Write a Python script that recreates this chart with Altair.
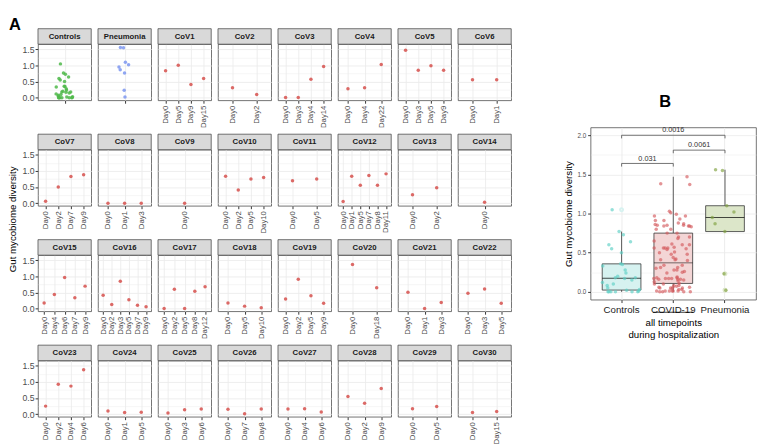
import altair as alt
import pandas as pd

# ---------------- data ----------------
controls = [1.05, 0.77, 0.73, 0.64, 0.60, 0.55, 0.50, 0.36, 0.35, 0.33,
            0.28, 0.24, 0.20, 0.18, 0.18, 0.17, 0.15, 0.12, 0.10, 0.08,
            0.05, 0.03, 0.02, 0.01, 0.0, 0.0, 0.0, 0.0, 0.0, 0.0]
pneumonia = [1.56, 1.55, 1.10, 1.02, 0.95, 0.87, 0.77, 0.23, 0.02]

cov_names = ["CoV1", "CoV2", "CoV3", "CoV4", "CoV5", "CoV6", "CoV7", "CoV8",
             "CoV9", "CoV10", "CoV11", "CoV12", "CoV13", "CoV14", "CoV15",
             "CoV16", "CoV17", "CoV18", "CoV19", "CoV20", "CoV21", "CoV22",
             "CoV23", "CoV24", "CoV25", "CoV26", "CoV27", "CoV28", "CoV29",
             "CoV30"]
cov_days = [[0, 5, 9, 15], [0, 2], [0, 3, 4, 14], [0, 4, 22], [0, 3, 5, 9],
            [0, 1], [0, 2, 7, 9], [0, 1, 3], [0], [0, 2, 5, 10], [0, 5],
            [0, 1, 5, 7, 8, 11], [0, 2], [0], [0, 4, 6, 7, 9],
            [0, 2, 3, 5, 7, 9], [0, 2, 5, 8, 12], [0, 5, 10], [0, 2, 5, 9],
            [0, 18], [0, 1, 3], [0, 3, 5], [0, 2, 4, 6], [0, 1, 5], [0, 3, 6],
            [0, 7, 8], [0, 4, 6], [0, 2, 9], [0, 5], [0, 15]]
cov_values = [[0.84, 1.01, 0.41, 0.60], [0.31, 0.10], [0.01, 0.01, 0.57, 0.97],
              [0.28, 0.31, 1.03], [1.47, 0.85, 0.99, 0.85], [0.56, 0.56],
              [0.06, 0.50, 0.83, 0.88], [0.0, 0.0, 0.0], [0.0],
              [0.84, 0.41, 0.75, 0.80], [0.70, 0.75],
              [0.05, 0.84, 0.56, 0.86, 0.56, 0.91], [0.26, 0.48], [0.03],
              [0.18, 0.44, 0.97, 0.34, 0.70],
              [0.42, 0.13, 0.85, 0.28, 0.11, 0.06],
              [0.01, 0.60, 0.01, 0.54, 0.68], [0.18, 0.08, 0.03],
              [0.30, 0.91, 0.40, 0.17], [1.37, 0.65], [0.51, 0.01, 0.19],
              [0.48, 0.61, 0.17], [0.25, 0.93, 0.87, 1.38], [0.10, 0.05, 0.06],
              [0.04, 0.14, 0.16], [0.15, 0.01, 0.16], [0.16, 0.17, 0.07],
              [0.55, 0.34, 0.80], [0.17, 0.24], [0.05, 0.08]]

group_order = ["Controls", "COVID-19", "Pneumonia"]
panel_order = ["Controls", "Pneumonia"] + cov_names

cmp_from = [1, 2, 1]
cmp_to = [2, 3, 3]
cmp_y = [1.64, 1.81, 2.0]
cmp_label = ["0.031", "0.0061", "0.0016"]

# ---------------- tables ----------------
rows = []
for v in controls:
    rows.append(dict(panel="Controls", group="Controls", day=" ", daynum=0, value=v))
for v in pneumonia:
    rows.append(dict(panel="Pneumonia", group="Pneumonia", day=" ", daynum=0, value=v))
for n, ds, vs in zip(cov_names, cov_days, cov_values):
    for d, v in zip(ds, vs):
        rows.append(dict(panel=n, group="COVID-19", day=f"Day{d}", daynum=d, value=v))
dfA = pd.DataFrame(rows)
dfP = pd.DataFrame({"panel": panel_order})

brows = [dict(group="Controls", value=v) for v in controls]
for vs in cov_values:
    brows += [dict(group="COVID-19", value=v) for v in vs]
brows += [dict(group="Pneumonia", value=v) for v in pneumonia]
dfB = pd.DataFrame(brows)

dfC = pd.DataFrame(dict(x1=cmp_from, x2=cmp_to, y=cmp_y, label=cmp_label))

FONT = "Liberation Sans"
minor = "round(datum.value * 4) % 2 === 0"
quarter = [0, 0.25, 0.5, 0.75, 1.0, 1.25, 1.5, 1.75, 2.0]
tick_op = {"condition": {"test": minor, "value": 1}, "value": 0}
grid_w = {"condition": {"test": minor, "value": 0.9}, "value": 0.45}
HASH = "2 * (abs(sin(datum.rn * 12.9898 + 78.233) * 43758.5453) % 1) - 1"

# ---------------- panel A ----------------
W, H = 55, 58
yscaleA = alt.Scale(domain=[-0.08, 1.66], nice=False, zero=False)
yaxis_first = alt.Axis(values=quarter[:7], title=None,
                       labelExpr=f"{minor} ? format(datum.value, '.1f') : ''",
                       tickOpacity=tick_op, gridWidth=grid_w,
                       gridColor="#ebebeb", tickColor="#333333", tickSize=3,
                       labelFontSize=9, labelColor="#4d4d4d", domain=False, labelPadding=1)
yaxis_other = alt.Axis(values=quarter[:7], title=None, labels=False, ticks=False,
                       gridWidth=grid_w, gridColor="#ebebeb", domain=False)
xA = alt.X("day:N", sort=alt.EncodingSortField(field="daynum", op="min"),
           scale=alt.Scale(type="point", padding=0.6),
           axis=alt.Axis(title=None, labelAngle=270, labelAlign="right", labelBaseline="middle",
                         labelFontSize=8, labelColor="#4d4d4d", tickColor="#333333", tickSize=3,
                         domain=False, grid=True, gridColor="#ebebeb", gridWidth=0.9,
                         labelPadding=2))
colA = alt.Color("group:N", scale=alt.Scale(domain=["Controls", "Pneumonia", "COVID-19"],
                                            range=["#4fb84a", "#7d96f0", "#d6504c"]), legend=None)
sizeA = alt.Size("group:N", scale=alt.Scale(domain=["Controls", "Pneumonia", "COVID-19"],
                                            range=[13, 13, 20]), legend=None)


def panel(name, first):
    pts = alt.Chart(dfA).transform_filter(
        alt.datum.panel == name
    ).transform_window(
        rn="row_number()"
    ).transform_calculate(
        jit=f"datum.group === 'COVID-19' ? 0 : {HASH}"
    ).mark_circle(opacity=0.85).encode(
        x=xA,
        xOffset=alt.XOffset("jit:Q", scale=alt.Scale(domain=[-1, 1], range=[-9, 9])),
        y=alt.Y("value:Q", scale=yscaleA, axis=yaxis_first if first else yaxis_other),
        color=colA, size=sizeA,
    )
    hdr = alt.Chart(dfP).transform_filter(alt.datum.panel == name)
    strip = hdr.mark_rect(fill="#d9d9d9", stroke="#4d4d4d", strokeWidth=0.8).encode(
        x=alt.value(0), x2=alt.value(W), y=alt.value(-16), y2=alt.value(0))
    lab = hdr.mark_text(fontSize=8, fontWeight="bold", color="#1a1a1a").encode(
        x=alt.value(W / 2), y=alt.value(-7.5), text="panel:N")
    return alt.layer(pts, strip, lab).properties(width=W, height=H)


spacerA = alt.Chart(dfP).mark_rule(opacity=0).encode(
    x=alt.value(0), x2=alt.value(1), y=alt.value(0)
).transform_filter("datum.panel === 'Controls'").properties(
    width=W, height=2, view=alt.ViewBackground(stroke="transparent"))

grid_rows = [spacerA]
for r in range(4):
    names = panel_order[r * 8:(r + 1) * 8]
    grid_rows.append(alt.hconcat(*[panel(n, i == 0) for i, n in enumerate(names)], spacing=5))
gridA = alt.vconcat(*grid_rows, spacing=5)

ylab = alt.layer(
    alt.Chart(pd.DataFrame({"t": ["Gut mycobiome diversity"]})).mark_text(
        angle=270, fontSize=10, color="#000000").encode(
        text="t:N", x=alt.value(3.5), y=alt.value(206)),
    alt.Chart(pd.DataFrame({"t": ["A"]})).mark_text(
        fontSize=17, fontWeight="bold", align="left", baseline="top", color="#000000").encode(
        text="t:N", x=alt.value(-1), y=alt.value(-3)),
).properties(width=7, height=400, view=alt.ViewBackground(stroke="transparent"))

# ---------------- panel B ----------------
WB, HB = 171, 178
yscaleB = alt.Scale(domain=[-0.1, 2.1], nice=False, zero=False)
yaxisB = alt.Axis(values=quarter, title="Gut mycobiome diversity",
                  titleFontSize=10, titleFontWeight="normal", titleColor="#000000",
                  titlePadding=4,
                  labelExpr=f"{minor} ? format(datum.value, '.1f') : ''",
                  tickOpacity=tick_op, gridWidth=grid_w,
                  gridColor="#ebebeb", tickColor="#333333", tickSize=3,
                  labelFontSize=6.5, labelColor="#4d4d4d", domain=False, labelPadding=2)


def yb(field):
    return alt.Y(field, scale=yscaleB, axis=yaxisB)


xB = alt.X("group:N", sort=group_order,
           scale=alt.Scale(domain=group_order, paddingInner=0.25, paddingOuter=0.225),
           axis=alt.Axis(title=["all timepoints", "during hospitalization"], titleFontSize=10,
                         titleFontWeight="normal", titleColor="#000000", titlePadding=4,
                         labelAngle=0, labelFontSize=10, labelColor="#1a1a1a",
                         tickColor="#333333", tickSize=3, domain=False, grid=True,
                         gridColor="#ebebeb", bandPosition=0.5, labelPadding=2))
xq = alt.Scale(domain=[0.4, 3.6], nice=False, zero=False)

boxB = alt.Chart(dfB).mark_boxplot(
    extent=1.5, size=40, ticks=False,
    median={"color": "#000000", "strokeWidth": 1.3},
    rule={"color": "#333333", "strokeWidth": 0.8},
    box={"stroke": "#333333", "strokeWidth": 0.8},
    outliers={"size": 10, "opacity": 1},
).encode(
    x=xB, y=yb("value:Q"),
    color=alt.Color("group:N", scale=alt.Scale(domain=group_order,
                                               range=["#d6f2f0", "#f3d5d5", "#dce6c9"]), legend=None),
)
ptsB = alt.Chart(dfB).transform_window(
    rn="row_number()", groupby=["group"]
).transform_calculate(
    xj=f"indexof(['Controls', 'COVID-19', 'Pneumonia'], datum.group) + 1 + 0.38 * ({HASH})"
).mark_circle(size=13, opacity=0.65).encode(
    x=alt.X("xj:Q", scale=xq, axis=None),
    y=yb("value:Q"),
    color=alt.Color("group:N", scale=alt.Scale(domain=group_order,
                                               range=["#5ccfc4", "#d45a5e", "#7fa23f"]), legend=None),
)

brk = alt.Chart(dfC).transform_calculate(xm="(datum.x1 + datum.x2) / 2", ylow="datum.y - 0.04")
hl = brk.mark_rule(color="#4d4d4d", strokeWidth=0.8).encode(
    x=alt.X("x1:Q", scale=xq, axis=None), x2="x2:Q", y=yb("y:Q"))
tl = brk.mark_rule(color="#4d4d4d", strokeWidth=0.8).encode(
    x=alt.X("x1:Q", scale=xq, axis=None), y=yb("y:Q"), y2="ylow:Q")
tr = brk.mark_rule(color="#4d4d4d", strokeWidth=0.8).encode(
    x=alt.X("x2:Q", scale=xq, axis=None), y=yb("y:Q"), y2="ylow:Q")
tx = brk.mark_text(fontSize=7.5, dy=-5, color="#333333").encode(
    x=alt.X("xm:Q", scale=xq, axis=None), y=yb("y:Q"), text="label:N")
ul = alt.Chart(pd.DataFrame({"a": [1.61], "b": [2.39]})).mark_rule(
    color="#000000", strokeWidth=0.8).encode(
    x=alt.X("a:Q", scale=xq, axis=None), x2="b:Q", y=alt.value(HB + 13))

chartB = alt.layer(boxB, ptsB, hl, tl, tr, tx, ul).resolve_scale(
    x="independent", color="independent").properties(width=WB, height=HB)

spacerB = alt.Chart(pd.DataFrame({"t": ["B"]})).mark_text(
    fontSize=17, fontWeight="bold", align="left", baseline="alphabetic", color="#000000").encode(
    text="t:N", x=alt.value(71), y=alt.value(90)
).properties(width=WB, height=102, view=alt.ViewBackground(stroke="transparent"))

colB = alt.vconcat(spacerB, chartB, spacing=6)

chart = alt.hconcat(
    alt.hconcat(ylab, gridA, spacing=0),
    colB,
    spacing=52,
).properties(padding=0).configure(font=FONT).configure_view(
    stroke="#4d4d4d", strokeWidth=0.8)

chart.save("out.html", embed_options={"renderer": "svg", "actions": False})
